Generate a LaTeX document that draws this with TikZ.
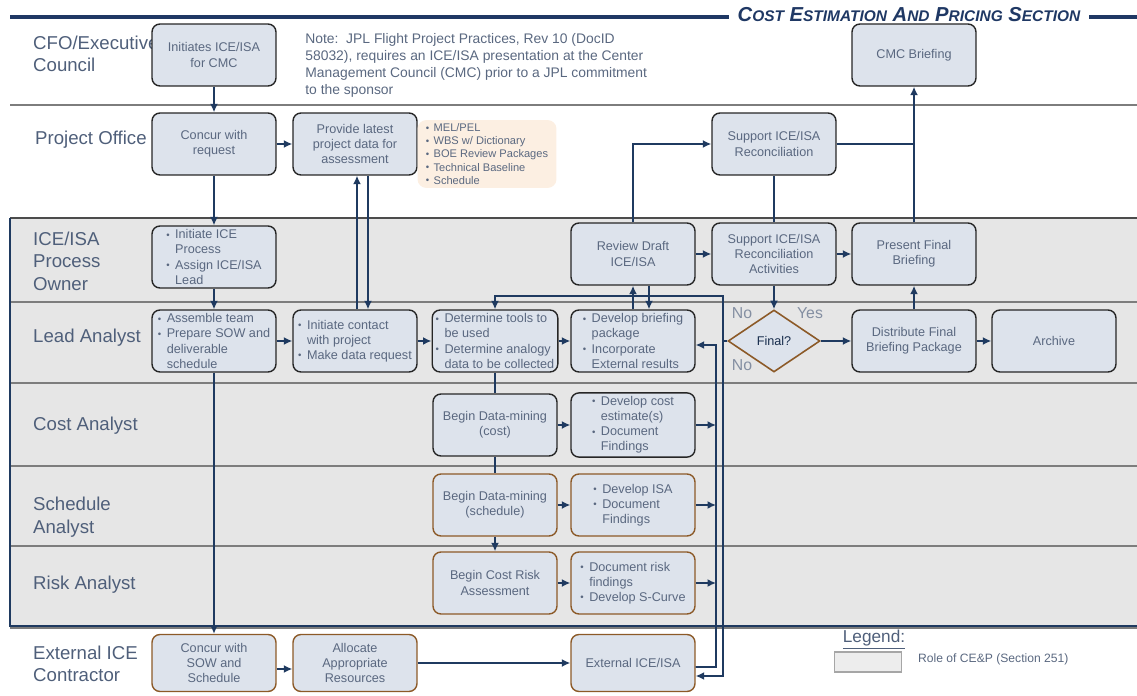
\documentclass[tikz,border=0pt]{standalone}
\usepackage{fontspec}
\setmainfont{Liberation Sans}
\usepackage{xcolor}
\usepackage{tikz}
\usetikzlibrary{arrows.meta,positioning,shapes.geometric}

\definecolor{boxfill}{RGB}{221,227,236}
\definecolor{boxline}{RGB}{38,38,38}
\definecolor{brownline}{RGB}{140,90,40}
\definecolor{boxtext}{RGB}{90,104,128}
\definecolor{lanetext}{RGB}{79,95,122}
\definecolor{arrowcol}{RGB}{31,58,96}
\definecolor{titlecol}{RGB}{31,56,100}
\definecolor{lanefill}{RGB}{230,230,230}
\definecolor{sepgray}{RGB}{125,125,125}
\definecolor{notefill}{RGB}{252,239,226}

\newcommand{\bul}{\makebox[0.7em][l]{\raisebox{0.1ex}{\fontsize{5.5}{6}\selectfont\textbullet}}}
\newcommand{\ind}{\hspace*{0.7em}}
\newcommand{\smc}[1]{{\fontsize{8.8}{10}\selectfont #1}}

\begin{document}
\begin{tikzpicture}[
    x=0.02cm, y=-0.02cm,
    box/.style={draw=boxline, fill=boxfill, rounded corners=4.5pt, line width=0.8pt, minimum width=2.48cm, minimum height=1.24cm, align=center, text=boxtext, inner sep=2pt, font=\fontsize{7.2}{8.6}\selectfont},
    bbox/.style={box, draw=brownline},
    lst/.style={align=left},
    lane/.style={anchor=west, align=left, text=lanetext, font=\fontsize{10.6}{12.8}\selectfont},
    arr/.style={-{Latex[length=1.7mm,width=1.6mm]}, line width=0.95pt, arrowcol},
    ln/.style={line width=0.95pt, arrowcol},
    sep/.style={line width=1.6pt, sepgray},
    yn/.style={text=lanetext!70, font=\fontsize{9}{10}\selectfont}
]
\useasboundingbox (0,0) rectangle (1137,696);

\fill[lanefill] (10,218) rectangle (1137,626);
\draw[line width=2.2pt, titlecol] (10,17) -- (1137,17);
\draw[sep] (10,105) -- (1137,105);
\draw[line width=1.2pt, black!70] (10,218) -- (1137,218);
\draw[sep] (10,302) -- (1137,302);
\draw[sep] (10,383) -- (1137,383);
\draw[sep] (10,466) -- (1137,466);
\draw[sep] (10,546) -- (1137,546);
\draw[line width=1.4pt, sepgray] (10,628) -- (1137,628);
\draw[line width=1pt, arrowcol] (10,218) -- (10,626) -- (1137,626);

\node[fill=white, text=titlecol, inner xsep=5pt, inner ysep=1pt, font=\bfseries\itshape\fontsize{11.5}{13}\selectfont] (title) at (909,15)
    {C\smc{OST} E\smc{STIMATION} A\smc{ND} P\smc{RICING} S\smc{ECTION}};

\node[lane] (lcfo) at (27,54) {CFO/Executive\\Council};
\node[lane] (lpo) at (29,140) {Project Office};
\node[lane] (lown) at (27,261) {ICE/ISA\\Process\\Owner};
\node[lane] (llead) at (27,338) {Lead Analyst};
\node[lane] (lcost) at (27,426) {Cost Analyst};
\node[lane] (lsched) at (27,517) {Schedule\\Analyst};
\node[lane] (lrisk) at (27,585) {Risk Analyst};
\node[lane] (lext) at (27,664) {External ICE\\Contractor};

\node[anchor=north west, align=left, text=boxtext, inner sep=0pt, font=\fontsize{7.9}{9.7}\selectfont] (note) at (305,33)
    {Note:\ \ JPL Flight Project Practices, Rev 10 (DocID\\58032), requires an ICE/ISA presentation at the Center\\Management Council (CMC) prior to a JPL commitment\\to the sponsor};

\node[box] (init) at (214,55) {Initiates ICE/ISA\\for CMC};
\node[box] (cmc) at (914,55) {CMC Briefing};

\node[box] (concur) at (214,144) {Concur with\\request};
\node[box] (provide) at (355,144) {Provide latest\\project data for\\assessment};
\node[fill=notefill, rounded corners=5pt, minimum width=2.78cm, minimum height=1.3cm, align=left, text=boxtext, inner sep=2pt, font=\fontsize{6.3}{7.5}\selectfont] (datalist) at (487,154)
    {\bul MEL/PEL\\\bul WBS w/ Dictionary\\\bul BOE Review Packages\\\bul Technical Baseline\\\bul Schedule};
\node[box] (support) at (774,144) {Support ICE/ISA\\Reconciliation};

\node[box, lst] (initiate) at (214,257) {\bul Initiate ICE\\\ind Process\\\bul Assign ICE/ISA\\\ind Lead};
\node[box] (review) at (633,254) {Review Draft\\ICE/ISA};
\node[box] (supportact) at (774,254) {Support ICE/ISA\\Reconciliation\\Activities};
\node[box] (present) at (914,254) {Present Final\\Briefing};

\node[box, lst] (assemble) at (214,341) {\bul Assemble team\\\bul Prepare SOW and\\\ind deliverable\\\ind schedule};
\node[box, lst] (contact) at (355,341) {\bul Initiate contact\\\ind with project\\\bul Make data request};
\node[box, lst] (determine) at (495,341) {\bul Determine tools to\\\ind be used\\\bul Determine analogy\\\ind data to be collected};
\node[box, lst] (develop) at (633,341) {\bul Develop briefing\\\ind package\\\bul Incorporate\\\ind External results};
\node[diamond, draw=brownline, fill=boxfill, line width=0.9pt, aspect=1.5, minimum width=1.84cm, minimum height=1.24cm, inner sep=0pt, text=arrowcol!80!black, font=\fontsize{7.2}{8.6}\selectfont] (final) at (774,341) {Final?};
\node[box] (distribute) at (914,341) {Distribute Final\\Briefing Package};
\node[box] (archive) at (1054,341) {Archive};

\node[box] (dmcost) at (495,425) {Begin Data-mining\\(cost)};
\node[box, lst] (devcost) at (633,425) {\bul Develop cost\\\ind estimate(s)\\\bul Document\\\ind Findings};

\node[bbox] (dmsched) at (495,505) {Begin Data-mining\\(schedule)};
\node[bbox, lst] (devisa) at (633,505) {\bul Develop ISA\\\bul Document\\\ind Findings};

\node[bbox] (risk) at (495,583) {Begin Cost Risk\\Assessment};
\node[bbox, lst] (docrisk) at (633,583) {\bul Document risk\\\ind findings\\\bul Develop S-Curve};

\node[bbox, minimum height=1.14cm] (concursow) at (214,663) {Concur with\\SOW and\\Schedule};
\node[bbox, minimum height=1.14cm] (allocate) at (355,663) {Allocate\\Appropriate\\Resources};
\node[bbox, minimum height=1.14cm] (external) at (633,663) {External ICE/ISA};

\node[yn] (no1) at (742,313) {No};
\node[yn] (yes) at (810,313) {Yes};
\node[yn] (no2) at (742,365) {No};

\node[text=lanetext, font=\fontsize{9.8}{11}\selectfont] (legend) at (874,640) {\underline{Legend:}};
\node[draw=black!35, fill=black!7, line width=1pt, minimum width=1.34cm, minimum height=0.4cm] (legbox) at (868,662) {};
\node[anchor=west, text=boxtext, font=\fontsize{6.9}{8}\selectfont] (legtext) at (912,659) {Role of CE\&P (Section 251)};

\coordinate (noj) at (723,341);
\coordinate (redo) at (723,296);
\coordinate (incorp) at (716,345);

\draw[arr] (init) -- (concur);
\draw[arr] (concur) -- (initiate);
\draw[arr] (initiate) -- (assemble);
\draw[arr] (assemble) -- (concursow);
\draw[arr] (concur) -- (provide);
\draw[arr] ([xshift=0.04cm]contact.north) -- ([xshift=0.04cm]provide.south);
\draw[arr] ([xshift=0.26cm]provide.south) -- ([xshift=0.26cm]contact.north);
\draw[arr] (assemble) -- (contact);
\draw[arr] (contact) -- (determine);
\draw[arr] (determine) -- (develop);
\draw[ln] (determine) -- (dmcost);
\draw[ln] (dmcost) -- (dmsched);
\draw[arr] (dmsched) -- (risk);
\draw[arr] (dmcost) -- (devcost);
\draw[arr] (dmsched) -- (devisa);
\draw[arr] (risk) -- (docrisk);
\draw[arr] (devcost.east) -- (devcost.east -| incorp);
\draw[arr] (devisa.east) -- (devisa.east -| incorp);
\draw[arr] (docrisk.east) -- (docrisk.east -| incorp);
\draw[arr] ([yshift=-0.08cm]external.east) -| (incorp) -- ([yshift=-0.08cm]develop.east);
\draw[arr] (final.west) -- (noj) |- (redo) -| (determine.north);
\draw[arr] (noj) |- ([yshift=-0.26cm]external.east);
\draw[arr] (develop.north) -- (review.south);
\draw[arr] ([xshift=0.32cm]review.south) -- ([xshift=0.32cm]develop.north);
\draw[arr] (review) -- (supportact);
\draw[arr] (supportact) -- (present);
\draw[arr] (review.north) |- (support.west);
\draw[ln] (supportact) -- (support);
\draw[arr] (supportact) -- (final);
\draw[arr] (final) -- (distribute);
\draw[arr] (distribute) -- (archive);
\draw[arr] (distribute) -- (present);
\draw[arr] (present) -- (cmc);
\draw[ln] (support.east) -- (support.east -| present.north);
\draw[arr] ([yshift=-0.12cm]concursow.east) -- ([yshift=-0.12cm]allocate.west);
\draw[arr] (allocate) -- (external);
\end{tikzpicture}
\end{document}
